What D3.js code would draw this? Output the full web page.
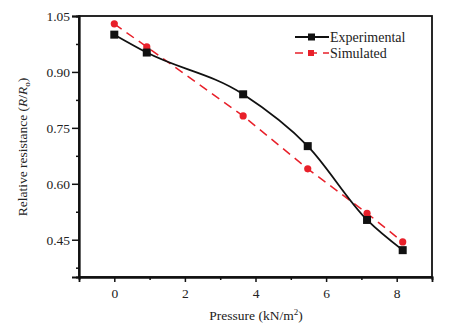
<!DOCTYPE html>
<html><head><meta charset="utf-8">
<script src="https://cdn.jsdelivr.net/npm/d3@7"></script>
<style>body{margin:0;background:#fff}svg{display:block}</style>
</head><body>
<svg id="c" width="454" height="332"></svg>
<script>
const pressure = [0, 0.92, 3.65, 5.48, 7.16, 8.17];
const experimental = [1.00, 0.952, 0.84, 0.701, 0.503, 0.422];
const simulated = [1.029, 0.967, 0.782, 0.640, 0.521, 0.444];
const xTicks = [0, 2, 4, 6, 8];
const yTicks = [0.45, 0.60, 0.75, 0.90, 1.05];
const seriesNames = ["Experimental", "Simulated"];

const svg = d3.select("#c");
const m = {l: 79, r: 432, t: 16, b: 277};
const x = d3.scaleLinear().domain([-1, 9]).range([m.l, m.r]);
const y = d3.scaleLinear().domain([0.35, 1.05]).range([m.b, m.t]);
const font = "'Liberation Serif','DejaVu Serif',serif";
const txt = "#222";

// frame
svg.append("rect").attr("x", m.l).attr("y", m.t).attr("width", m.r - m.l).attr("height", m.b - m.t)
  .attr("fill", "none").attr("stroke", "#111").attr("stroke-width", 1.8);

// x axis
const xa = svg.append("g").attr("transform", `translate(0,${m.b})`)
  .call(d3.axisBottom(x).tickValues(xTicks).tickFormat(d3.format("d")).tickSize(5).tickPadding(6));
const xm = svg.append("g").attr("transform", `translate(0,${m.b})`)
  .call(d3.axisBottom(x).tickValues([1,3,5,7]).tickFormat("").tickSize(3));
// y axis
const ya = svg.append("g").attr("transform", `translate(${m.l},0)`)
  .call(d3.axisLeft(y).tickValues(yTicks).tickFormat(d3.format(".2f")).tickSize(7).tickPadding(2));
const ym = svg.append("g").attr("transform", `translate(${m.l},0)`)
  .call(d3.axisLeft(y).tickValues([0.375, 0.525, 0.675, 0.825, 0.975]).tickFormat("").tickSize(3));
[xa, xm, ya, ym].forEach(g => {
  g.select(".domain").attr("stroke", "#111").attr("stroke-width", 1.8);
  g.selectAll(".tick line").attr("stroke", "#111").attr("stroke-width", 1.5);
  g.selectAll(".tick text").attr("font-family", font).attr("font-size", 13.5).attr("fill", txt);
});

const data = pressure.map((p, i) => ({x: p, e: experimental[i], s: simulated[i]}));

// simulated: red dashed
svg.append("path").datum(data)
  .attr("d", d3.line().x(d => x(d.x)).y(d => y(d.s)))
  .attr("fill", "none").attr("stroke", "#e8202a").attr("stroke-width", 1.5).attr("stroke-dasharray", "9,6");
svg.selectAll(".sm").data(data).enter().append("circle")
  .attr("cx", d => x(d.x)).attr("cy", d => y(d.s)).attr("r", 3.6).attr("fill", "#e8202a");

// experimental: black smooth
svg.append("path").datum(data)
  .attr("d", d3.line().x(d => x(d.x)).y(d => y(d.e)).curve(d3.curveMonotoneX))
  .attr("fill", "none").attr("stroke", "#111").attr("stroke-width", 1.8);
svg.selectAll(".em").data(data).enter().append("rect")
  .attr("x", d => x(d.x) - 4).attr("y", d => y(d.e) - 4).attr("width", 8).attr("height", 8).attr("fill", "#111");

// legend
const lg = svg.append("g");
lg.append("line").attr("x1", 295).attr("x2", 329).attr("y1", 37).attr("y2", 37).attr("stroke", "#111").attr("stroke-width", 1.8);
lg.append("rect").attr("x", 308).attr("y", 33.5).attr("width", 7).attr("height", 7).attr("fill", "#111");
lg.append("line").attr("x1", 295).attr("x2", 329).attr("y1", 53).attr("y2", 53).attr("stroke", "#e8202a").attr("stroke-width", 1.6).attr("stroke-dasharray", "8,6");
lg.append("rect").attr("x", 308).attr("y", 50).attr("width", 6).attr("height", 6).attr("fill", "#e8202a");
lg.selectAll("text").data(seriesNames).enter().append("text")
  .attr("x", 330).attr("y", (d, i) => 41.5 + i * 16).text(d => d)
  .attr("font-family", font).attr("font-size", 14).attr("fill", txt);

// axis titles
const xt = svg.append("text").attr("x", 256).attr("y", 320).attr("text-anchor", "middle")
  .attr("font-family", font).attr("font-size", 13.5).attr("fill", txt);
xt.append("tspan").text("Pressure (kN/m");
xt.append("tspan").text("2").attr("font-size", 9).attr("dy", -5);
xt.append("tspan").text(")").attr("dy", 5);

const yt = svg.append("text").attr("transform", "translate(27,147) rotate(-90)").attr("text-anchor", "middle")
  .attr("font-family", font).attr("font-size", 13.5).attr("fill", txt);
yt.append("tspan").text("Relative resistance (");
yt.append("tspan").text("R").attr("font-style", "italic");
yt.append("tspan").text("/");
yt.append("tspan").text("R").attr("font-style", "italic");
yt.append("tspan").text("o").attr("font-size", 9).attr("dy", 3);
yt.append("tspan").text(")").attr("dy", -3);
</script>
</body></html>
